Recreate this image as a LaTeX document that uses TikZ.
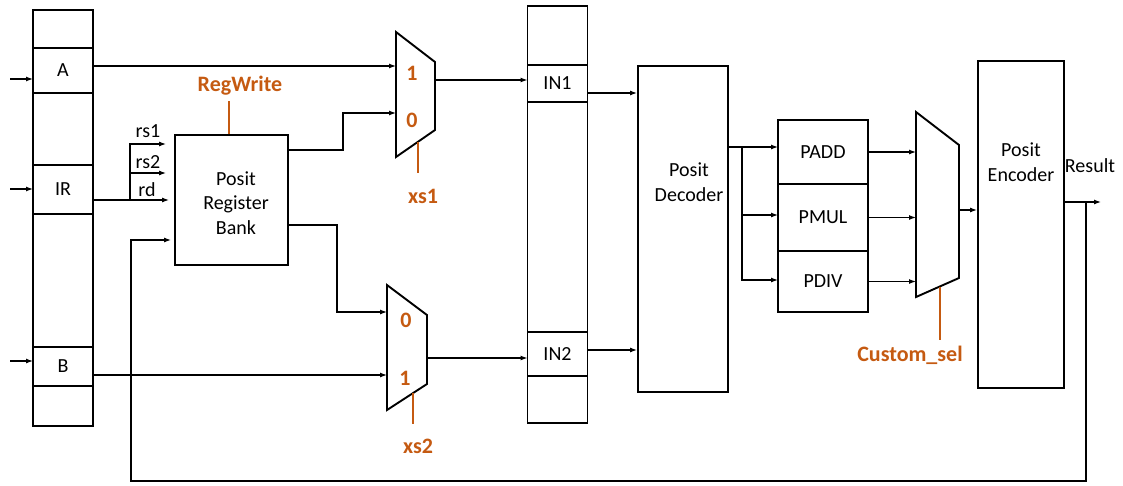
\documentclass[tikz,border=0pt]{standalone}
\usepackage{fontspec}
\setmainfont{Carlito}
\usepackage{tikz}
\usetikzlibrary{arrows.meta, positioning}
\definecolor{selcol}{RGB}{197, 90, 17}
\newcommand{\mux}[7]{
  % name, left x, top y, right x, right top y, right bottom y, bottom y
  \draw[box] (#2, #3) coordinate (#1-tl) -- (#4, #5) coordinate (#1-tr)
    -- (#4, #6) coordinate (#1-br) -- (#2, #7) coordinate (#1-bl) -- cycle;
}

\begin{document}
\begin{tikzpicture}[x=1pt, y=-1pt,
  box/.style={draw, line width=1.9pt},
  cell/.style={box, minimum width=60, inner sep=0pt, outer sep=0pt,
    font=\fontsize{20}{24}\selectfont},
  wire/.style={line width=1.2pt},
  arr/.style={wire, -{Latex[length=7pt, width=5pt]}},
  sel/.style={selcol, line width=1.2pt},
  lbl/.style={inner sep=0pt, align=center, font=\fontsize{20}{24.5}\selectfont},
  sellbl/.style={inner sep=0pt, text=selcol, font=\fontsize{22}{24}\bfseries\selectfont}]
  \useasboundingbox (0, 0) rectangle (1123, 485);

  % register columns
  \foreach \nm/\yt/\yb/\txt in {ra0/10/48/{}, raA/48/93/A, ra2/93/165/{},
      raIR/165/214/IR, ra4/214/347/{}, raB/347/386/B, ra6/386/426/{}} {
    \node[cell, minimum height={\yb-\yt}] (\nm) at (63, {(\yt+\yb)/2}) {\txt};
  };
  \foreach \nm/\yt/\yb/\txt in {rb0/6/65/{}, rbIN1/65/102/IN1, rb2/102/332/{},
      rbIN2/332/376/IN2, rb4/376/423/{}} {
    \node[cell, minimum height={\yb-\yt}] (\nm) at (557.5, {(\yt+\yb)/2}) {\txt};
  };

  % blocks
  \node[box, minimum width=113, minimum height=130, inner sep=0pt] (bank) at (231.5, 200) {};
  \node[lbl] (bank-t) at (236, 203) {Posit\\Register\\Bank};
  \node[box, minimum width=90, minimum height=326, inner sep=0pt] (dec) at (683, 229) {};
  \node[lbl] (dec-t) at (689, 182) {Posit\\Decoder};
  \node[box, minimum width=86, minimum height=327, inner sep=0pt] (enc) at (1021, 224.5) {};
  \node[lbl] (enc-t) at (1021, 162) {Posit\\Encoder};
  \foreach \nm/\yt/\yb/\txt in {padd/120/184/PADD, pmul/184/251/PMUL, pdiv/251/312/PDIV} {
    \node[cell, minimum width=90, minimum height={\yb-\yt}] (\nm) at (823, {(\yt+\yb)/2}) {\txt};
  };

  % muxes
  \mux{mxa}{396}{32}{435}{62}{130}{157}
  \mux{mxb}{387}{285}{427}{315}{384}{410}
  \mux{mxc}{916}{112}{959}{145}{278}{297}
  \coordinate (mxa-in1) at (396, 66);
  \coordinate (mxa-in0) at (396, 113);
  \coordinate (mxa-out) at (435, 80);
  \coordinate (mxa-s) at (418, 142);
  \coordinate (mxb-in0) at (387, 312);
  \coordinate (mxb-in1) at (387, 375);
  \coordinate (mxb-out) at (427, 358);
  \coordinate (mxb-s) at (413, 393);
  \coordinate (mxc-out) at (959, 210);
  \coordinate (mxc-s) at (940, 287);
  \node[sellbl] (mxa-1) at (412, 73) {1};
  \node[sellbl] (mxa-0) at (412, 120) {0};
  \node[sellbl] (mxb-0) at (406, 320) {0};
  \node[sellbl] (mxb-1) at (405, 378) {1};

  % inputs
  \coordinate (inA) at (10, 79);
  \coordinate (inIR) at (10, 189);
  \coordinate (inB) at (10, 361);
  \foreach \c/\n in {inA/raA, inIR/raIR, inB/raB} {
    \draw[arr] (\c) -- (\c -| \n.west);
  };
  \draw[arr] (raA.east |- mxa-in1) -- (mxa-in1);
  \draw[arr] (raB.east |- mxb-in1) -- (mxb-in1);

  % instruction fields
  \coordinate (irsplit) at (130, 200);
  \coordinate (rs1) at (130, 144);
  \coordinate (rs2) at (130, 173);
  \draw[arr, shorten >=8pt] (raIR.east |- irsplit) -- (irsplit) -- (rs1) -- (rs1 -| bank.west);
  \draw[arr, shorten >=8pt] (rs2) -- (rs2 -| bank.west);
  \draw[arr, shorten >=5pt] (irsplit) -- (irsplit -| bank.west);
  \node[lbl] (rs1-t) at (148, 131) {rs1};
  \node[lbl] (rs2-t) at (148, 162) {rs2};
  \node[lbl] (rd-t) at (147, 190) {rd};

  % register bank to muxes
  \draw[arr] (bank.east |- 0, 150) -- ++(54, 0) |- (mxa-in0);
  \draw[arr] (bank.east |- 0, 225) -- ++(48, 0) |- (mxb-in0);
  \draw[arr] (mxa-out) -- (mxa-out -| rbIN1.west);
  \draw[arr] (mxb-out) -- (mxb-out -| rbIN2.west);
  \draw[arr] (rbIN1.east |- 0, 93) -- (dec.west |- 0, 93);
  \draw[arr] (rbIN2.east |- 0, 350) -- (dec.west |- 0, 350);

  % decoder to units
  \coordinate (dsplit) at (742, 147);
  \draw[arr] (dec.east |- dsplit) -- (dsplit -| padd.west);
  \draw[arr] (dsplit) |- (pdiv.west |- 0, 280);
  \draw[arr] (dsplit |- 0, 215) -- (pmul.west |- 0, 215);
  \foreach \n in {padd, pmul, pdiv} {
    \draw[arr] (\n.east) -- (\n.east -| mxc-tl);
  };
  \draw[arr] (mxc-out) -- (mxc-out -| enc.west);

  % result and feedback
  \coordinate (resj) at (1086, 202);
  \coordinate (resout) at (1101, 202);
  \coordinate (fbb) at (1086, 481);
  \coordinate (fbl) at (131, 481);
  \draw[arr] (enc.east |- resout) -- (resout);
  \draw[arr, shorten >=3pt] (resj) -- (fbb) -- (fbl) |- (bank.west |- 0, 240);
  \node[lbl] (res-t) at (1090, 166) {Result};

  % select lines
  \draw[sel] (bank.north -| 229, 0) -- ++(0, -33);
  \node[sellbl] (regw) at (240, 86) {RegWrite};
  \draw[sel] (mxa-s) -- (mxa-s |- 0, 173);
  \node[sellbl] (xs1) at (423, 196) {xs1};
  \draw[sel] (mxb-s) -- (mxb-s |- 0, 424);
  \node[sellbl] (xs2) at (418, 446) {xs2};
  \draw[sel] (mxc-s) -- (mxc-s |- 0, 340);
  \node[sellbl] (csel) at (910, 355) {Custom\_sel};

\end{tikzpicture}
\end{document}
